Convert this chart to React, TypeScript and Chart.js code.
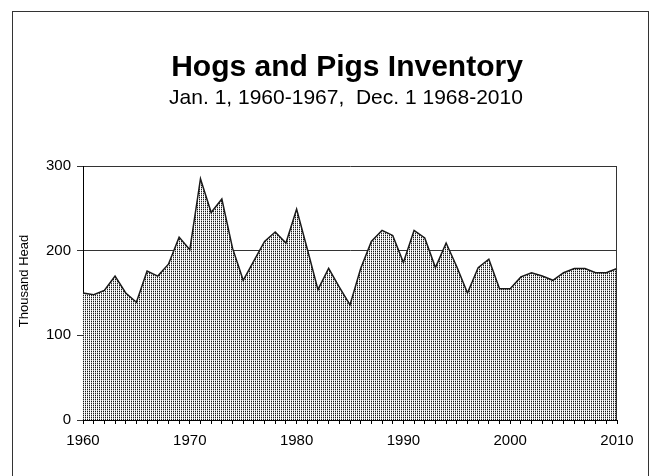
import React, { useEffect, useRef } from "react";
import { Chart, registerables } from "chart.js";

Chart.register(...registerables);

const years: string[] = [
  "1960", "1961", "1962", "1963", "1964", "1965", "1966", "1967", "1968", "1969",
  "1970", "1971", "1972", "1973", "1974", "1975", "1976", "1977", "1978", "1979",
  "1980", "1981", "1982", "1983", "1984", "1985", "1986", "1987", "1988", "1989",
  "1990", "1991", "1992", "1993", "1994", "1995", "1996", "1997", "1998", "1999",
  "2000", "2001", "2002", "2003", "2004", "2005", "2006", "2007", "2008", "2009", "2010",
];

const inventory: number[] = [
  150, 148, 153, 170, 150, 139, 176, 170, 184, 216,
  201, 285, 245, 261, 203, 165, 188, 211, 222, 209,
  249, 202, 154, 179, 157, 136, 179, 211, 224, 218,
  186, 224, 215, 180, 209, 181, 150, 180, 190, 155,
  155, 169, 174, 170, 165, 174, 179, 179, 174, 174, 179,
];

const xTickLabels: string[] = ["1960", "1970", "1980", "1990", "2000", "2010"];
const yTicks: number[] = [0, 100, 200, 300];

const titleText = "Hogs and Pigs Inventory";
const subtitleText = "Jan. 1, 1960-1967,  Dec. 1 1968-2010";
const yAxisTitle = "Thousand Head";

const FONT = '"Liberation Sans", Arial, Helvetica, sans-serif';

function makePattern(): CanvasPattern | string {
  const c = document.createElement("canvas");
  c.width = 2;
  c.height = 2;
  const g = c.getContext("2d");
  if (!g) return "#bbbbbb";
  g.fillStyle = "#ffffff";
  g.fillRect(0, 0, 2, 2);
  g.fillStyle = "#1a1a1a";
  g.fillRect(1, 1, 1, 1);
  g.fillStyle = "#b8b8b8";
  g.fillRect(1, 0, 1, 1);
  const p = g.createPattern(c, "repeat");
  return p || "#bbbbbb";
}

const decorPlugin = {
  id: "decor",
  beforeDraw(chart: any) {
    const { ctx, width, height } = chart;
    ctx.save();
    ctx.fillStyle = "#ffffff";
    ctx.fillRect(0, 0, width, height);
    ctx.strokeStyle = "#333333";
    ctx.lineWidth = 1;
    ctx.strokeRect(12.5, 11.5, 636, 520);
    ctx.restore();
  },
  afterDraw(chart: any) {
    const { ctx, chartArea } = chart;
    ctx.save();
    ctx.fillStyle = "#000000";
    ctx.textAlign = "center";
    ctx.textBaseline = "alphabetic";
    ctx.font = `bold 30px ${FONT}`;
    ctx.fillText(titleText, 347, 76);
    ctx.font = `21px ${FONT}`;
    ctx.fillText(subtitleText, 346, 104);

    ctx.translate(24, 281);
    ctx.rotate(-Math.PI / 2);
    ctx.font = `13px ${FONT}`;
    ctx.textBaseline = "middle";
    ctx.fillText(yAxisTitle, 0, 0);
    ctx.restore();

    ctx.save();
    ctx.strokeStyle = "#333333";
    ctx.lineWidth = 1;
    const r = Math.round(chartArea.right) - 0.5;
    ctx.beginPath();
    ctx.moveTo(r, chartArea.top);
    ctx.lineTo(r, chartArea.bottom);
    ctx.stroke();
    ctx.restore();
  },
};

export default function App() {
  const canvasRef = useRef<HTMLCanvasElement | null>(null);

  useEffect(() => {
    document.body.style.margin = "0";
    const canvas = canvasRef.current;
    if (!canvas) return;
    const chart = new Chart(canvas, {
      type: "line",
      data: {
        labels: years,
        datasets: [
          {
            data: inventory,
            borderColor: "#1a1a1a",
            borderWidth: 1.5,
            backgroundColor: makePattern() as any,
            fill: "origin",
            pointRadius: 0,
            tension: 0,
          },
        ],
      },
      options: {
        animation: false,
        responsive: false,
        devicePixelRatio: 1,
        layout: { padding: { top: 166, right: 35, left: 0, bottom: 0 } },
        plugins: {
          legend: { display: false },
          title: { display: false },
          tooltip: { enabled: false },
        },
        scales: {
          x: {
            type: "category",
            offset: false,
            afterFit(scale: any) {
              scale.height = 56;
            },
            grid: {
              display: true,
              drawOnChartArea: false,
              drawTicks: true,
              tickLength: 4,
              color: "#000000",
            },
            border: { display: true, color: "#000000", width: 1 },
            ticks: {
              autoSkip: false,
              maxRotation: 0,
              minRotation: 0,
              padding: 8,
              color: "#000000",
              font: { family: FONT, size: 15 },
              callback(_v: any, i: number) {
                const y = years[i];
                return xTickLabels.includes(y) ? y : "";
              },
            },
          },
          y: {
            type: "linear",
            min: yTicks[0],
            max: yTicks[yTicks.length - 1],
            afterFit(scale: any) {
              scale.width = 83;
            },
            afterBuildTicks(scale: any) {
              scale.ticks = yTicks.map((v) => ({ value: v }));
            },
            grid: {
              color: "#333333",
              tickLength: 6,
              drawTicks: true,
            },
            border: { display: true, color: "#000000", width: 1 },
            ticks: {
              padding: 6,
              color: "#000000",
              font: { family: FONT, size: 15 },
            },
          },
        },
      },
      plugins: [decorPlugin],
    });
    return () => chart.destroy();
  }, []);

  return (
    <div style={{ width: 652, height: 476 }}>
      <canvas ref={canvasRef} width={652} height={476} style={{ display: "block" }} />
    </div>
  );
}
